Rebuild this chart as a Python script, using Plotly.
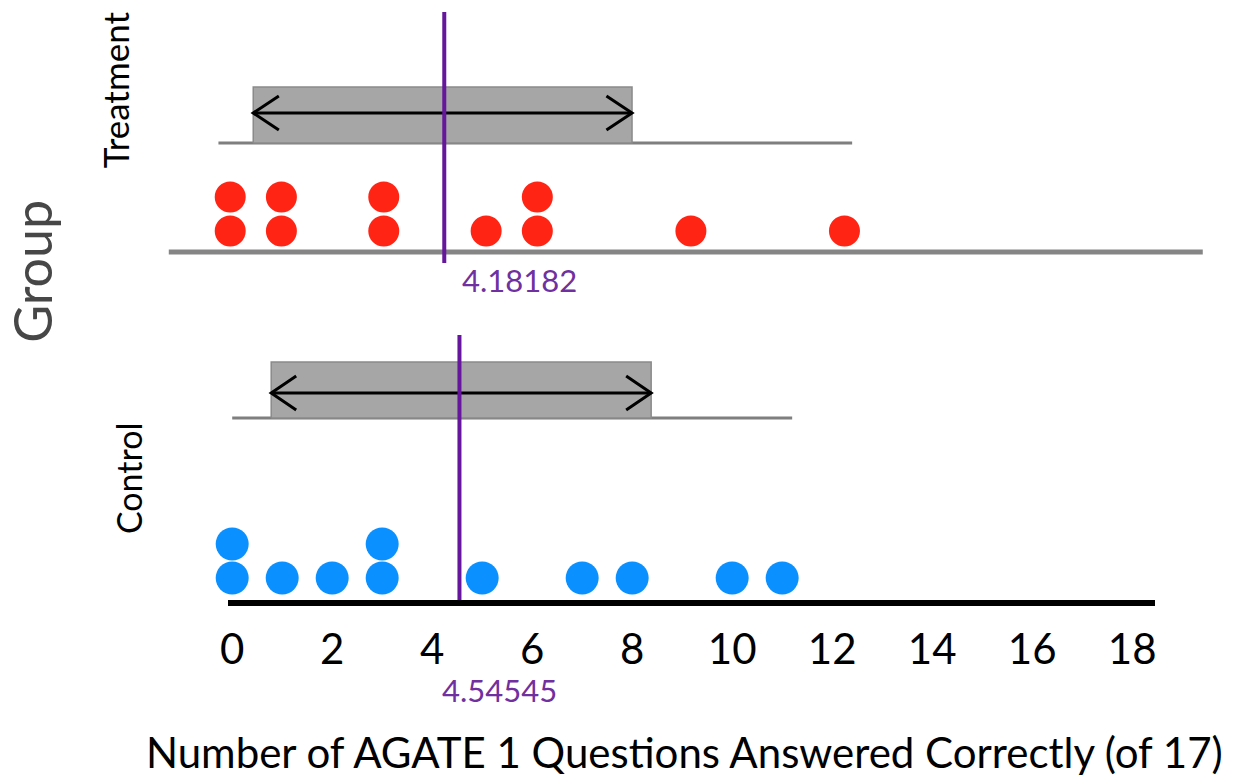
import plotly.graph_objects as go

# ---------------- data ----------------
groups = ["Treatment", "Control"]
treatment_scores = [0, 0, 1, 1, 3, 3, 5, 6, 6, 9, 12]
control_scores = [0, 0, 1, 2, 3, 3, 5, 7, 8, 10, 11]
group_means = [4.18182, 4.54545]
box_low = [0.45, 0.78]      # shaded interval (left edge)
box_high = [7.85, 8.38]     # shaded interval (right edge)
range_low = [-0.23, 0.0]    # thin line under the box
range_high = [12.15, 11.2]
x_ticks = [0, 2, 4, 6, 8, 10, 12, 14, 16, 18]
x_title = "Number of AGATE 1 Questions Answered Correctly (of 17)"
y_title = "Group"

# ---------------- styles ----------------
W, H = 1251, 778
FONT = "Lato"
RED = "#FF2414"
BLUE = "#0A90FF"
PURPLE_LINE = "#66169C"
PURPLE_TEXT = "#7030A0"
BOX_FILL = "#A6A6A6"
BOX_EDGE = "#8A8A8A"


def stack_levels(vals):
    seen = {}
    out = []
    for v in vals:
        seen[v] = seen.get(v, 0) + 1
        out.append(seen[v])
    return out


# pixel geometry helpers (layout only)
C_X0, C_SX = 226.0, 50.4
C_BOT, C_TOP, C_STEP = 600.0, 322.0, 34.0
C_R0 = 1 - (C_BOT - 578) / C_STEP
def cy(px):
    return C_R0 + (C_BOT - px) / C_STEP

T_X0, T_SX = 224.0, 51.6
T_BOT, T_TOP, T_STEP = 272.0, 0.0, 34.0
T_R0 = 1 - (T_BOT - 231) / T_STEP
def ty(px):
    return T_R0 + (T_BOT - px) / T_STEP

fig = go.Figure()


def add_panel(idx, scores, color, msize, xa, ya, yfun, px):
    lo, hi = box_low[idx], box_high[idx]
    rlo, rhi = range_low[idx], range_high[idx]
    b, t, a = yfun(px["box_bot"]), yfun(px["box_top"]), yfun(px["arrow"])
    fig.add_trace(go.Scatter(x=[rlo, rhi], y=[b, b], mode="lines",
                             line=dict(color="#7F7F7F", width=3),
                             xaxis=xa, yaxis=ya, hoverinfo="skip"))
    fig.add_trace(go.Scatter(x=[lo, hi, hi, lo, lo], y=[b, b, t, t, b], mode="lines",
                             fill="toself", fillcolor=BOX_FILL,
                             line=dict(color=BOX_EDGE, width=1.5),
                             xaxis=xa, yaxis=ya, hoverinfo="skip"))
    dx = 0.5
    dy = 0.5
    ax = [lo, hi, None,
          lo + dx, lo, lo + dx, None,
          hi - dx, hi, hi - dx]
    ay = [a, a, None,
          a + dy, a, a - dy, None,
          a + dy, a, a - dy]
    fig.add_trace(go.Scatter(x=ax, y=ay, mode="lines",
                             line=dict(color="black", width=3),
                             xaxis=xa, yaxis=ya, hoverinfo="skip"))
    fig.add_trace(go.Scatter(x=scores, y=stack_levels(scores), mode="markers",
                             marker=dict(color=color, size=msize, line=dict(width=0)),
                             cliponaxis=False,
                             xaxis=xa, yaxis=ya, name=groups[idx]))
    m = group_means[idx]
    fig.add_trace(go.Scatter(x=[m, m], y=[yfun(px["mean_bot"]), yfun(px["mean_top"])],
                             mode="lines", line=dict(color=PURPLE_LINE, width=4),
                             xaxis=xa, yaxis=ya, hoverinfo="skip"))


fig.add_trace(go.Scatter(x=[-1.2, 19.0], y=[ty(252), ty(252)], mode="lines",
                         line=dict(color="#858585", width=5),
                         xaxis="x2", yaxis="y2", hoverinfo="skip"))
add_panel(0, treatment_scores, RED, 31, "x2", "y2", ty,
          dict(box_bot=143, box_top=87, arrow=113, mean_bot=263, mean_top=12))
add_panel(1, control_scores, BLUE, 33, "x", "y", cy,
          dict(box_bot=418, box_top=362, arrow=393, mean_bot=606, mean_top=335))

fig.update_layout(
    width=W, height=H,
    margin=dict(l=0, r=0, t=0, b=0),
    paper_bgcolor="white", plot_bgcolor="white",
    showlegend=False,
    font=dict(family=FONT, color="black"),
    xaxis=dict(domain=[222 / W, 1156 / W],
               range=[(222 - C_X0) / C_SX, (1156 - C_X0) / C_SX],
               anchor="y", showline=True, linecolor="black", linewidth=6,
               showgrid=False, zeroline=False, ticks="",
               ticklabelstandoff=8,
               tickvals=x_ticks, ticktext=[str(v) for v in x_ticks],
               tickfont=dict(family=FONT, size=42, color="black")),
    yaxis=dict(domain=[1 - C_BOT / H, 1 - C_TOP / H],
               range=[C_R0, C_R0 + (C_BOT - C_TOP) / C_STEP],
               visible=False, fixedrange=True),
    xaxis2=dict(domain=[0, 1],
                range=[(0 - T_X0) / T_SX, (W - T_X0) / T_SX],
                anchor="y2", visible=False),
    yaxis2=dict(domain=[1 - T_BOT / H, 1 - T_TOP / H],
                range=[T_R0, T_R0 + (T_BOT - T_TOP) / T_STEP],
                anchor="x2", visible=False),
)

annotations = [
    dict(x=group_means[0], xref="x2", y=1 - 280 / H, yref="paper",
         text=f"{group_means[0]:.5f}", showarrow=False, xanchor="center", yanchor="middle",
         xshift=75, font=dict(family=FONT, size=31, color=PURPLE_TEXT)),
    dict(x=group_means[1], xref="x", y=1 - 690 / H, yref="paper",
         text=f"{group_means[1]:.5f}", showarrow=False, xanchor="center", yanchor="middle",
         xshift=40, font=dict(family=FONT, size=31, color=PURPLE_TEXT)),
    dict(x=682 / W, xref="paper", y=1 - 752 / H, yref="paper", text=x_title,
         showarrow=False, xanchor="center", yanchor="middle",
         font=dict(family=FONT, size=42, color="black")),
    dict(x=24 / W, xref="paper", y=1 - 271 / H, yref="paper", text=y_title,
         showarrow=False, textangle=-90, xanchor="center", yanchor="middle",
         font=dict(family=FONT, size=52, color="#474747")),
    dict(x=108 / W, xref="paper", y=1 - 90 / H, yref="paper", text=groups[0],
         showarrow=False, textangle=-90, xanchor="center", yanchor="middle",
         font=dict(family=FONT, size=35, color="black")),
    dict(x=121 / W, xref="paper", y=1 - 478 / H, yref="paper", text=groups[1],
         showarrow=False, textangle=-90, xanchor="center", yanchor="middle",
         font=dict(family=FONT, size=34, color="black")),
]
fig.update_layout(annotations=annotations)

fig.write_html("out.html",
               config={"displayModeBar": False},
               post_script="document.body.style.margin='0';document.body.style.overflow='hidden';")
